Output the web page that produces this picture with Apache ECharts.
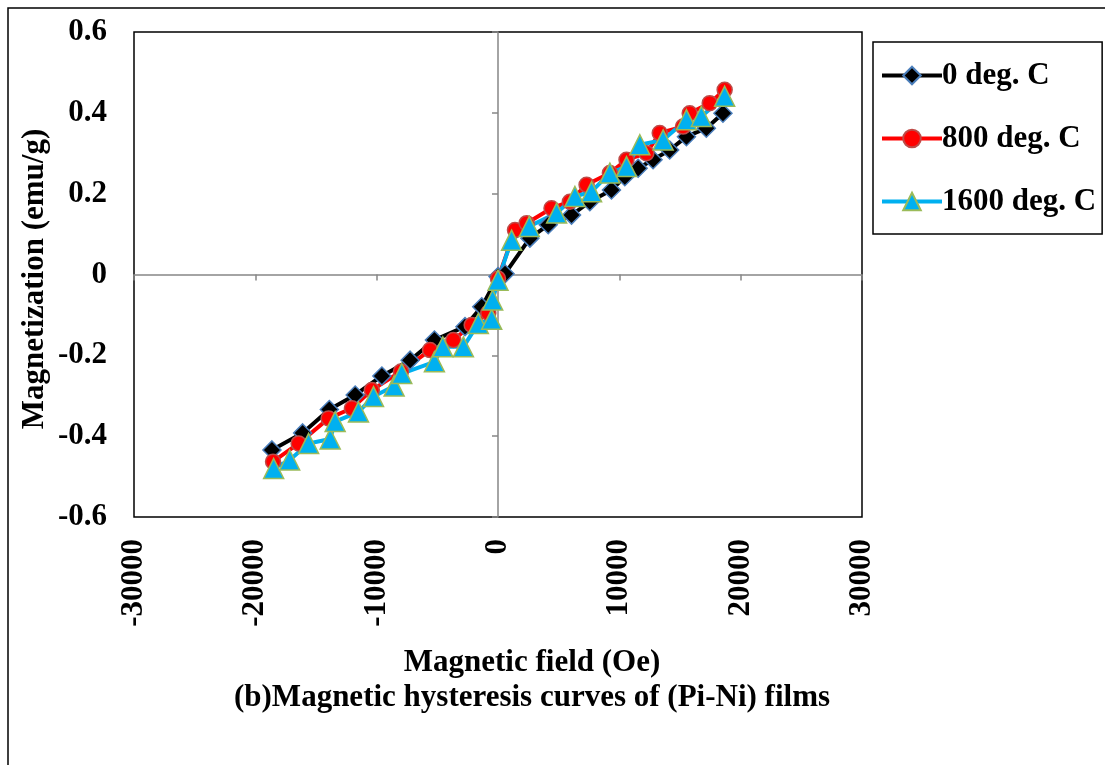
<!DOCTYPE html>
<html>
<head>
<meta charset="utf-8">
<script src="https://cdn.jsdelivr.net/npm/echarts@6/dist/echarts.min.js"></script>
<style>
  html, body { margin: 0; padding: 0; background: #fff; }
  #chart { width: 1105px; height: 765px; }
</style>
</head>
<body>
<div id="chart"></div>
<script>
// field (Oe) and magnetization (emu/g)
var field0 = [-18630, -16100, -13900, -11770, -9570, -7240, -5240, -2720, -1340, 0, 580, 2630, 4140, 6060, 7570, 9350, 10450, 11550, 12780, 14150, 15530, 17170, 18540];
var mag0 = [-0.434, -0.392, -0.334, -0.298, -0.251, -0.212, -0.162, -0.129, -0.080, -0.005, 0.002, 0.090, 0.123, 0.147, 0.180, 0.209, 0.242, 0.263, 0.284, 0.308, 0.341, 0.362, 0.399];

var field800 = [-18540, -16430, -13960, -12040, -10400, -8000, -5600, -3680, -2170, -800, 0, 1400, 2360, 4410, 5920, 7300, 9220, 10590, 12230, 13330, 15250, 15800, 17450, 18680];
var mag800 = [-0.463, -0.418, -0.356, -0.331, -0.286, -0.240, -0.187, -0.162, -0.125, -0.095, -0.010, 0.110, 0.127, 0.164, 0.180, 0.222, 0.251, 0.284, 0.300, 0.350, 0.366, 0.399, 0.424, 0.457];

var field1600 = [-18490, -17170, -15610, -13830, -13420, -11500, -10260, -8560, -7930, -5240, -4550, -2850, -1620, -520, -440, 0, 1120, 2580, 4830, 6340, 7710, 9220, 10590, 11690, 13610, 15530, 16760, 18680];
var mag1600 = [-0.480, -0.459, -0.418, -0.407, -0.364, -0.340, -0.302, -0.276, -0.245, -0.216, -0.179, -0.179, -0.121, -0.111, -0.063, -0.014, 0.085, 0.119, 0.152, 0.193, 0.205, 0.251, 0.267, 0.321, 0.333, 0.383, 0.391, 0.441];

var seriesNames = ['0 deg. C', '800 deg. C', '1600 deg. C'];

function pairs(xs, ys) {
  var out = [];
  for (var i = 0; i < xs.length; i++) {
    out.push([xs[i], ys[i]]);
  }
  return out;
}

var font = 'Liberation Serif, Times New Roman, serif';
var chart = echarts.init(document.getElementById('chart'));

var option = {
  backgroundColor: '#fff',
  animation: false,
  grid: {
    left: 134, top: 32, right: 243, bottom: 248,
    show: true, borderColor: '#000', borderWidth: 1.5, backgroundColor: 'transparent'
  },
  legend: {
    orient: 'vertical',
    left: 873, top: 42,
    padding: [18, 6, 17, 7],
    borderColor: '#000', borderWidth: 1.5,
    itemWidth: 60, itemHeight: 22, itemGap: 32,
    lineStyle: { width: 4 },
    data: seriesNames,
    textStyle: { fontFamily: font, fontWeight: 'bold', fontSize: 31, color: '#000', padding: [0, 0, 0, -5] }
  },
  xAxis: [
    {
      type: 'value', min: -30000, max: 30000, interval: 10000,
      axisLine: { onZero: true, lineStyle: { color: '#868686', width: 1.5 } },
      axisTick: { show: true, inside: false, length: 6, lineStyle: { color: '#868686', width: 1.5 } },
      axisLabel: { show: false },
      splitLine: { show: false }
    },
    {
      type: 'value', min: -30000, max: 30000, interval: 10000, position: 'bottom',
      axisLine: { show: false, onZero: false },
      axisTick: { show: false },
      splitLine: { show: false },
      axisLabel: {
        rotate: 90, margin: 22,
        fontFamily: font, fontWeight: 'bold', fontSize: 31, color: '#000',
        formatter: function (v) { return String(v); }
      }
    }
  ],
  yAxis: [
    {
      type: 'value', min: -0.6, max: 0.6, interval: 0.2,
      axisLine: { onZero: true, lineStyle: { color: '#868686', width: 1.5 } },
      axisTick: { show: true, inside: false, length: 6, lineStyle: { color: '#868686', width: 1.5 } },
      axisLabel: { show: false },
      splitLine: { show: false }
    },
    {
      type: 'value', min: -0.6, max: 0.6, interval: 0.2, position: 'left',
      axisLine: { show: false, onZero: false },
      axisTick: { show: false },
      splitLine: { show: false },
      axisLabel: {
        margin: 27,
        fontFamily: font, fontWeight: 'bold', fontSize: 31, color: '#000',
        formatter: function (v) { return String(Math.round(v * 10) / 10); }
      }
    }
  ],
  graphic: [
    {
      type: 'rect', silent: true, z: -1,
      shape: { x: 8, y: 8, width: 1300, height: 900 },
      style: { fill: 'none', stroke: '#000', lineWidth: 1.5 }
    },
    {
      type: 'text', silent: true,
      x: 35, y: 279, rotation: Math.PI / 2,
      style: {
        text: 'Magnetization (emu/g)',
        font: 'bold 31px ' + font, fill: '#000', textAlign: 'center', textVerticalAlign: 'middle'
      }
    },
    {
      type: 'text', silent: true,
      x: 532, y: 663,
      style: {
        text: 'Magnetic field (Oe)',
        font: 'bold 31px ' + font, fill: '#000', textAlign: 'center', textVerticalAlign: 'middle'
      }
    },
    {
      type: 'text', silent: true,
      x: 532, y: 698,
      style: {
        text: '(b)Magnetic hysteresis curves of (Pi-Ni) films',
        font: 'bold 31px ' + font, fill: '#000', textAlign: 'center', textVerticalAlign: 'middle'
      }
    }
  ],
  series: [
    {
      name: seriesNames[0], type: 'line', xAxisIndex: 0, yAxisIndex: 0,
      data: pairs(field0, mag0),
      symbol: 'diamond', symbolSize: 18,
      lineStyle: { color: '#000', width: 4 },
      itemStyle: { color: '#000', borderColor: '#4a7ebb', borderWidth: 1.5 }
    },
    {
      name: seriesNames[1], type: 'line', xAxisIndex: 0, yAxisIndex: 0,
      data: pairs(field800, mag800),
      symbol: 'circle', symbolSize: 15,
      lineStyle: { color: '#ff0000', width: 4 },
      itemStyle: { color: '#ff0000', borderColor: '#be4b48', borderWidth: 1.5 }
    },
    {
      name: seriesNames[2], type: 'line', xAxisIndex: 0, yAxisIndex: 0,
      data: pairs(field1600, mag1600),
      symbol: 'triangle', symbolSize: 20,
      lineStyle: { color: '#00b0f0', width: 4 },
      itemStyle: { color: '#00b0f0', borderColor: '#9bbb59', borderWidth: 1.5 }
    }
  ]
};

chart.setOption(option);
</script>
</body>
</html>
